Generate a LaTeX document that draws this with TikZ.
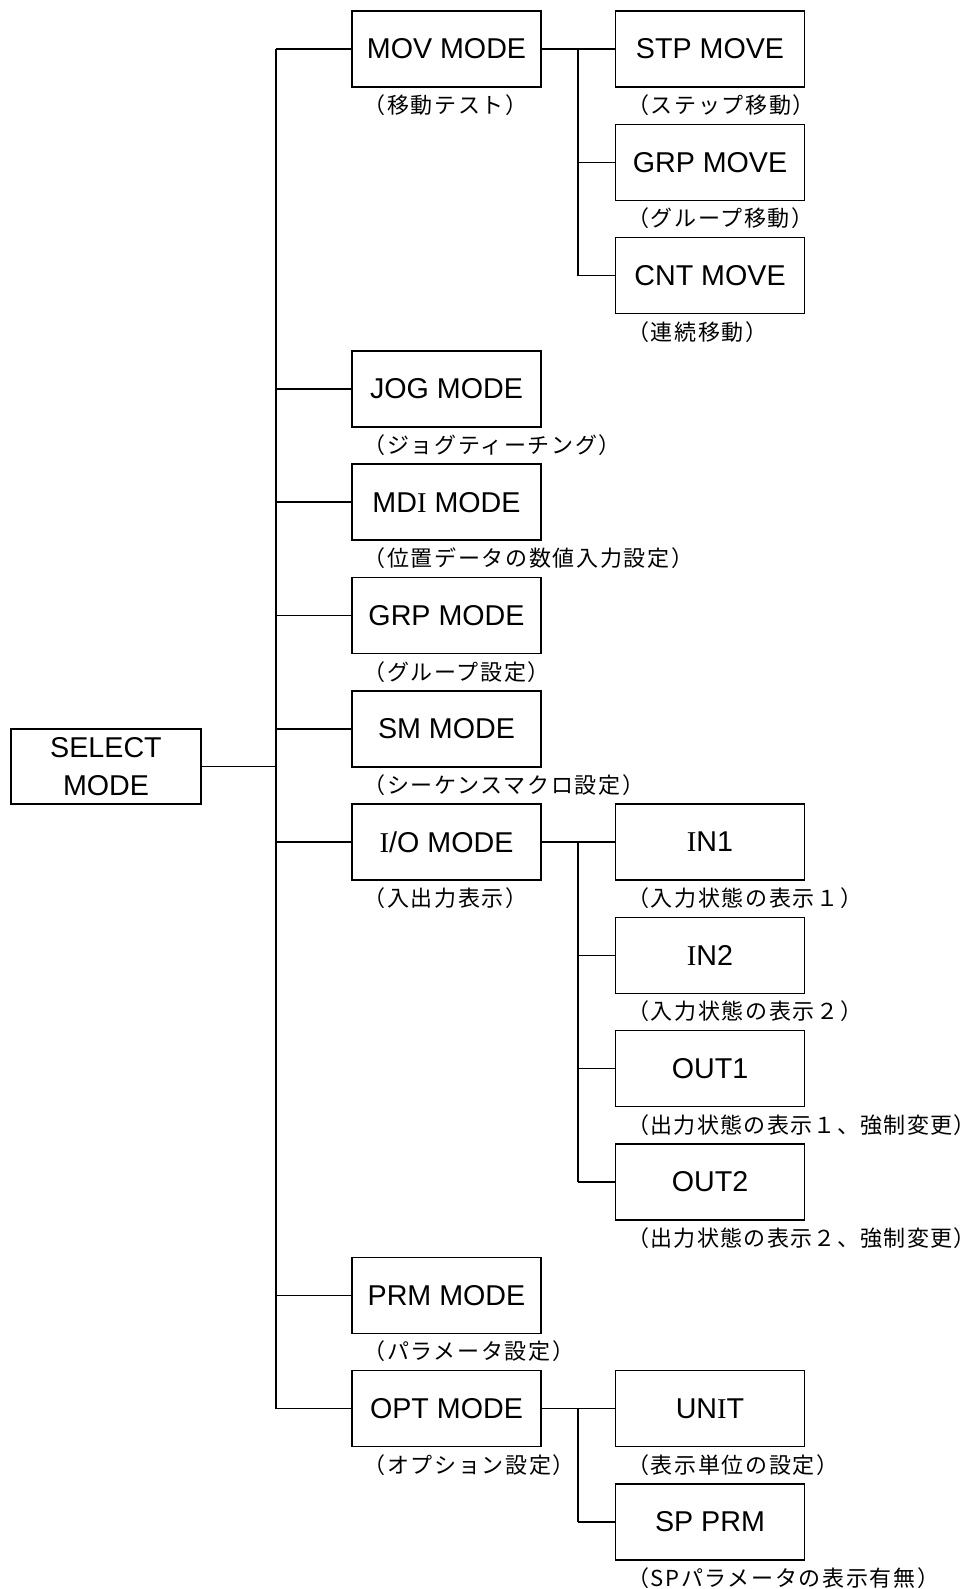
\documentclass[tikz,border=0pt]{standalone}
\usepackage{fontspec}
\setmainfont{Liberation Sans}
\newfontfamily\jp[LetterSpace=7.5]{Noto Sans CJK JP}
\newfontfamily\jpn[LetterSpace=6]{Noto Sans CJK JP}
\newfontfamily\serifI{Liberation Serif}
\begin{document}
\begin{tikzpicture}[x=0.75pt,y=-0.75pt,
  box/.style={draw, line width=1.1pt, minimum width=141.5pt, minimum height=57pt, inner sep=0pt,
    font=\fontsize{21.5}{28.5}\selectfont, align=center},
  lbl/.style={anchor=north west, inner sep=0pt, font=\jp\fontsize{16.5}{18}\selectfont},
  lbln/.style={lbl, font=\jpn\fontsize{16.5}{18}\selectfont},
  conn/.style={line width=1.1pt}]
\useasboundingbox (0,0) rectangle (973,1589);
\coordinate (trunk) at (276,0);
\coordinate (b1) at (578,0);
% main boxes
\node[box, minimum width=142.5pt, minimum height=56.5pt] (sel) at (106,766.5) {SELECT\\MODE};
\node[box] (mov) at (446.5,49) {MOV MODE};
\node[box] (jog) at (446.5,388.9) {JOG MODE};
\node[box] (mdi) at (446.5,502.2) {MD{\serifI I} MODE};
\node[box] (grp) at (446.5,615.5) {GRP MODE};
\node[box] (sm) at (446.5,728.8) {SM MODE};
\node[box] (io) at (446.5,842.1) {{\serifI I}/O MODE};
\node[box] (prm) at (446.5,1295.3) {PRM MODE};
\node[box] (opt) at (446.5,1408.6) {OPT MODE};
% right boxes
\node[box] (stp) at (710,49) {STP MOVE};
\node[box] (grpm) at (710,162.3) {GRP MOVE};
\node[box] (cnt) at (710,275.6) {CNT MOVE};
\node[box] (in1) at (710,842.1) {{\serifI I}N1};
\node[box] (in2) at (710,955.4) {{\serifI I}N2};
\node[box] (out1) at (710,1068.7) {OUT1};
\node[box] (out2) at (710,1182) {OUT2};
\node[box] (unit) at (710,1408.6) {UN{\serifI I}T};
\node[box] (spprm) at (710,1521.9) {SP PRM};
% labels
\tikzset{lblpos/.style={xshift=9pt,yshift=-5pt}}
\node[lbl] (movl) at ([lblpos]mov.south west) {（移動テスト）};
\node[lbl] (jogl) at ([lblpos]jog.south west) {（ジョグティーチング）};
\node[lbl] (mdil) at ([lblpos]mdi.south west) {（位置データの数値入力設定）};
\node[lbl] (grpl) at ([lblpos]grp.south west) {（グループ設定）};
\node[lbl] (sml) at ([lblpos]sm.south west) {（シーケンスマクロ設定）};
\node[lbl] (iol) at ([lblpos]io.south west) {（入出力表示）};
\node[lbl] (prml) at ([lblpos]prm.south west) {（パラメータ設定）};
\node[lbl] (optl) at ([lblpos]opt.south west) {（オプション設定）};
\node[lbl] (stpl) at ([lblpos]stp.south west) {（ステップ移動）};
\node[lbl] (grpml) at ([lblpos]grpm.south west) {（グループ移動）};
\node[lbl] (cntl) at ([lblpos]cnt.south west) {（連続移動）};
\node[lbl] (in1l) at ([lblpos]in1.south west) {（入力状態の表示１）};
\node[lbl] (in2l) at ([lblpos]in2.south west) {（入力状態の表示２）};
\node[lbln] (out1l) at ([lblpos]out1.south west) {（出力状態の表示１、強制変更）\hspace{-4pt}};
\node[lbln] (out2l) at ([lblpos]out2.south west) {（出力状態の表示２、強制変更）\hspace{-4pt}};
\node[lbl] (unitl) at ([lblpos]unit.south west) {（表示単位の設定）};
\node[lbl] (spprml) at ([lblpos]spprm.south west) {（SPパラメータの表示有無）};
% trunk
\draw[conn] (mov.west -| trunk) -- (opt.west -| trunk);
\draw[conn] (sel.east) -- (sel.east -| trunk);
\foreach \n in {mov,jog,mdi,grp,sm,io,prm,opt} \draw[conn] (\n.west) -- (\n.west -| trunk);
% MOV branch
\draw[conn] (mov.east) -- (stp.west);
\draw[conn] (stp.west -| b1) -- (cnt.west -| b1);
\draw[conn] (grpm.west) -- (grpm.west -| b1);
\draw[conn] (cnt.west) -- (cnt.west -| b1);
% IO branch
\draw[conn] (io.east) -- (in1.west);
\draw[conn] (in1.west -| b1) -- (out2.west -| b1);
\foreach \n in {in2,out1,out2} \draw[conn] (\n.west) -- (\n.west -| b1);
% OPT branch
\draw[conn] (opt.east) -- (unit.west);
\draw[conn] (unit.west -| b1) -- (spprm.west -| b1);
\draw[conn] (spprm.west) -- (spprm.west -| b1);
\end{tikzpicture}
\end{document}
